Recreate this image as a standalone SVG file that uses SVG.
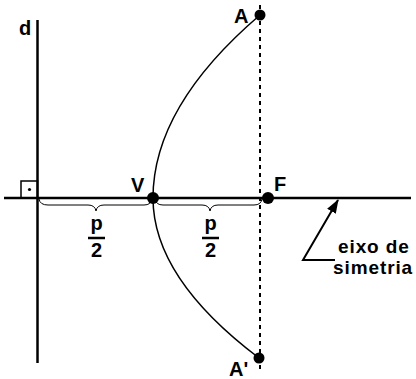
<svg xmlns="http://www.w3.org/2000/svg" width="416" height="379" viewBox="0 0 416 379">
<style>
text{font-family:"Liberation Sans",Arial,sans-serif;font-weight:bold;font-size:20px;fill:#000}
.big{font-size:19px;letter-spacing:0.9px}
.thick{stroke:#000;stroke-width:2.5;fill:none}
.thin{stroke:#000;stroke-width:1.5;fill:none}
.brace{stroke:#000;stroke-width:1;fill:none}
</style>
<defs>
<marker id="ah" viewBox="0 0 14 10" refX="13" refY="5" markerWidth="14" markerHeight="10" markerUnits="userSpaceOnUse" orient="auto">
<path d="M0,0 L14,5 L0,10 z" fill="#000"/>
</marker>
</defs>
<g id="connectors">
<line id="directrix" class="thick" x1="37.5" y1="20" x2="37.5" y2="363"/>
<line id="axis" class="thick" x1="4" y1="198" x2="411" y2="198"/>
<line id="latus" x1="260" y1="5" x2="260" y2="372" stroke="#000" stroke-width="2" stroke-dasharray="4,4"/>
<path id="parabola" class="thin" d="M260,15 Q153,106.5 153,198 Q153,278 259,358"/>
<path id="brace1" class="brace" d="M39,199 Q40,205 48,205 L88,205 Q95,205 96,211 Q97,205 104,205 L144,205 Q151,205 152,199"/>
<path id="brace2" class="brace" d="M155,199 Q156,205 163,205 L202,205 Q209,205 210,211 Q211,205 218,205 L254,205 Q261,205 262,199"/>
<path id="arrow" d="M335,260 L303,260 L338,200" stroke="#000" stroke-width="2" fill="none" marker-end="url(#ah)"/>
<line x1="88" y1="238" x2="105" y2="238" stroke="#000" stroke-width="2.5"/>
<line x1="202" y1="238" x2="219" y2="238" stroke="#000" stroke-width="2.5"/>
</g>
<g id="right-angle">
<rect x="21" y="181" width="16.5" height="17" fill="none" stroke="#000" stroke-width="1.5"/>
<circle cx="29.5" cy="189.5" r="1.6" fill="#000"/>
</g>
<g id="node-d"><text x="19" y="35">d</text></g>
<g id="node-A"><circle cx="260" cy="15" r="5.5" fill="#000"/><text x="234" y="23">A</text></g>
<g id="node-V"><circle cx="153" cy="198" r="6" fill="#000"/><text x="131" y="192">V</text></g>
<g id="node-F"><circle cx="268" cy="198" r="6" fill="#000"/><text x="274" y="191">F</text></g>
<g id="node-A2"><circle cx="259" cy="358" r="5.5" fill="#000"/><text x="229" y="376">A'</text></g>
<g id="label-p1"><text x="96.5" y="230" text-anchor="middle">p</text><text x="96.5" y="257" text-anchor="middle">2</text></g>
<g id="label-p2"><text x="210.5" y="230" text-anchor="middle">p</text><text x="210.5" y="257" text-anchor="middle">2</text></g>
<g id="label-eixo"><text class="big" x="338" y="253">eixo de</text><text class="big" x="333" y="274">simetria</text></g>
</svg>
